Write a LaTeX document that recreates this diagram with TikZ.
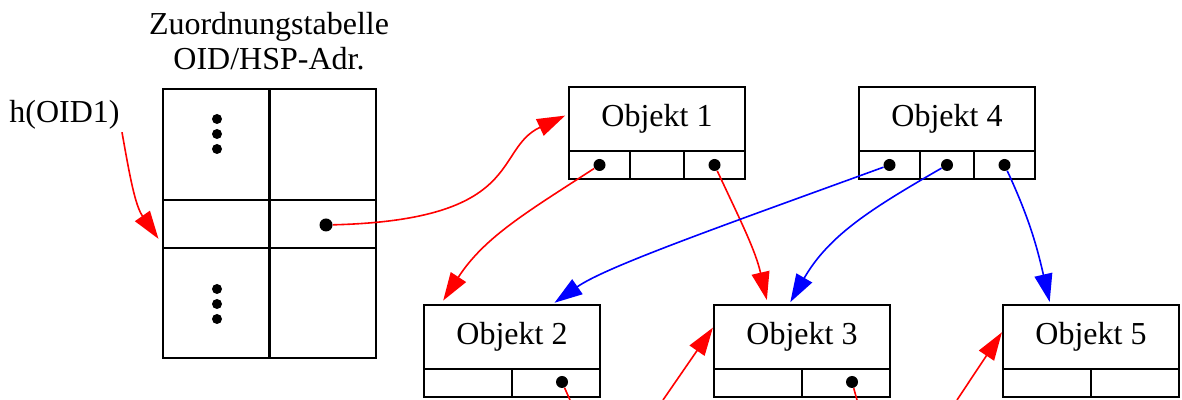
\documentclass[tikz,border=0pt]{standalone}
\usepackage{fontspec}
\setmainfont{Liberation Serif}
\usetikzlibrary{shapes,arrows.meta}
\tikzstyle{kopf}=[rectangle,draw=black,line width=1.1pt,inner sep=0pt,
  minimum width=88pt,minimum height=32pt]
\tikzstyle{feld}=[rectangle,draw=black,line width=1.1pt,inner sep=0pt,
  minimum height=14pt]
\tikzstyle{zelle}=[rectangle,draw=black,line width=1.1pt,inner sep=0pt,
  minimum width=53.25pt]
\tikzstyle{punkt}=[circle,fill=black,inner sep=0pt,minimum size=6pt]
\tikzstyle{pkt}=[circle,fill=black,inner sep=0pt,minimum size=5pt]
\tikzstyle{rot}=[draw=red,line width=0.8pt,-{Triangle[length=14pt,width=9pt]}]
\tikzstyle{blau}=[draw=blue,line width=0.8pt,-{Triangle[length=14pt,width=9pt]}]

\begin{document}
\begin{tikzpicture}[x=0.5pt,y=0.5pt,font=\fontsize{16}{17.5}\selectfont]
        \useasboundingbox (0,0) rectangle (1182,400);
        % Zuordnungstabelle
        \node [align=center] (titel) at (269,359) {Zuordnungstabelle\\OID/HSP-Adr.};
        \node [style=zelle,minimum height=55.5pt] (tl) at (216.25,255.5) {};
        \node [style=zelle,minimum height=55.5pt] (tr) at (322.75,255.5) {};
        \node [style=zelle,minimum height=24pt] (ml) at (216.25,176) {};
        \node [style=zelle,minimum height=24pt] (mr) at (322.75,176) {};
        \node [style=zelle,minimum height=55pt] (bl) at (216.25,97) {};
        \node [style=zelle,minimum height=55pt] (br) at (322.75,97) {};
        \node [style=pkt] (v1) at (217,281) {};
        \node [style=pkt] (v2) at (217,266) {};
        \node [style=pkt] (v3) at (217,251) {};
        \node [style=pkt] (v4) at (217,111) {};
        \node [style=pkt] (v5) at (217,96) {};
        \node [style=pkt] (v6) at (217,81) {};
        \node [style=punkt,minimum size=6.5pt] (td) at (326,175) {};
        \node [anchor=base west,inner sep=1pt] (h) at (7,277) {h(OID1)};
        % Objekte
        \node [style=kopf] (o1) at (657,281) {Objekt 1};
        \node [style=feld,minimum width=30.5pt] (o1a) at (599.5,235) {};
        \node [style=feld,minimum width=27pt] (o1b) at (657,235) {};
        \node [style=feld,minimum width=30.5pt] (o1c) at (714.5,235) {};
        \node [style=punkt] (p1a) at (o1a) {};
        \node [style=punkt] (p1c) at (o1c) {};
        \node [style=kopf] (o4) at (947,281) {Objekt 4};
        \node [style=feld,minimum width=30.5pt] (o4a) at (889.5,235) {};
        \node [style=feld,minimum width=27pt] (o4b) at (947,235) {};
        \node [style=feld,minimum width=30.5pt] (o4c) at (1004.5,235) {};
        \node [style=punkt] (p4a) at (o4a) {};
        \node [style=punkt] (p4b) at (o4b) {};
        \node [style=punkt] (p4c) at (o4c) {};
        \node [style=kopf] (o2) at (512,63) {Objekt 2};
        \node [style=feld,minimum width=44pt] (o2a) at (468,17) {};
        \node [style=feld,minimum width=44pt] (o2b) at (556,17) {};
        \node [style=punkt] (p2) at (562,18) {};
        \node [style=kopf] (o3) at (802,63) {Objekt 3};
        \node [style=feld,minimum width=44pt] (o3a) at (758,17) {};
        \node [style=feld,minimum width=44pt] (o3b) at (846,17) {};
        \node [style=punkt] (p3) at (852,18) {};
        \node [style=kopf] (o5) at (1091,63) {Objekt 5};
        \node [style=feld,minimum width=44pt] (o5a) at (1047,17) {};
        \node [style=feld,minimum width=44pt] (o5b) at (1135,17) {};
        \coordinate (r2) at (570,0);
        \coordinate (l3) at (663,0);
        \coordinate (r3) at (857,0);
        \coordinate (l5) at (957,0);
        % Zeiger
        \draw [rot,shorten >=3pt] (h.south east) to[out=-80,in=125] (ml.200);
        \draw [rot,shorten >=1.5pt] (td) .. controls +(200,5) and +(-75,-35) .. (o1.177);
        \draw [rot,shorten >=2pt] (p1a) to[out=213,in=57] (o2.155);
        \draw [rot,shorten >=2pt] (p1c) to[out=-65,in=103] (o3.136);
        \draw [blau,shorten >=1pt] (p4a) .. controls +(200:180) and +(35:65) .. (o2.39);
        \draw [blau,shorten >=1pt] (p4b) to[out=210,in=60] (o3.111);
        \draw [blau,shorten >=1pt] (p4c) to[out=-65,in=103] (o5.141);
        \draw [rot,-] (p2) -- (r2);
        \draw [rot] (l3) -- (o3.174);
        \draw [rot,-] (p3) -- (r3);
        \draw [rot] (l5) -- (o5.177);
    \end{tikzpicture}
\end{document}
